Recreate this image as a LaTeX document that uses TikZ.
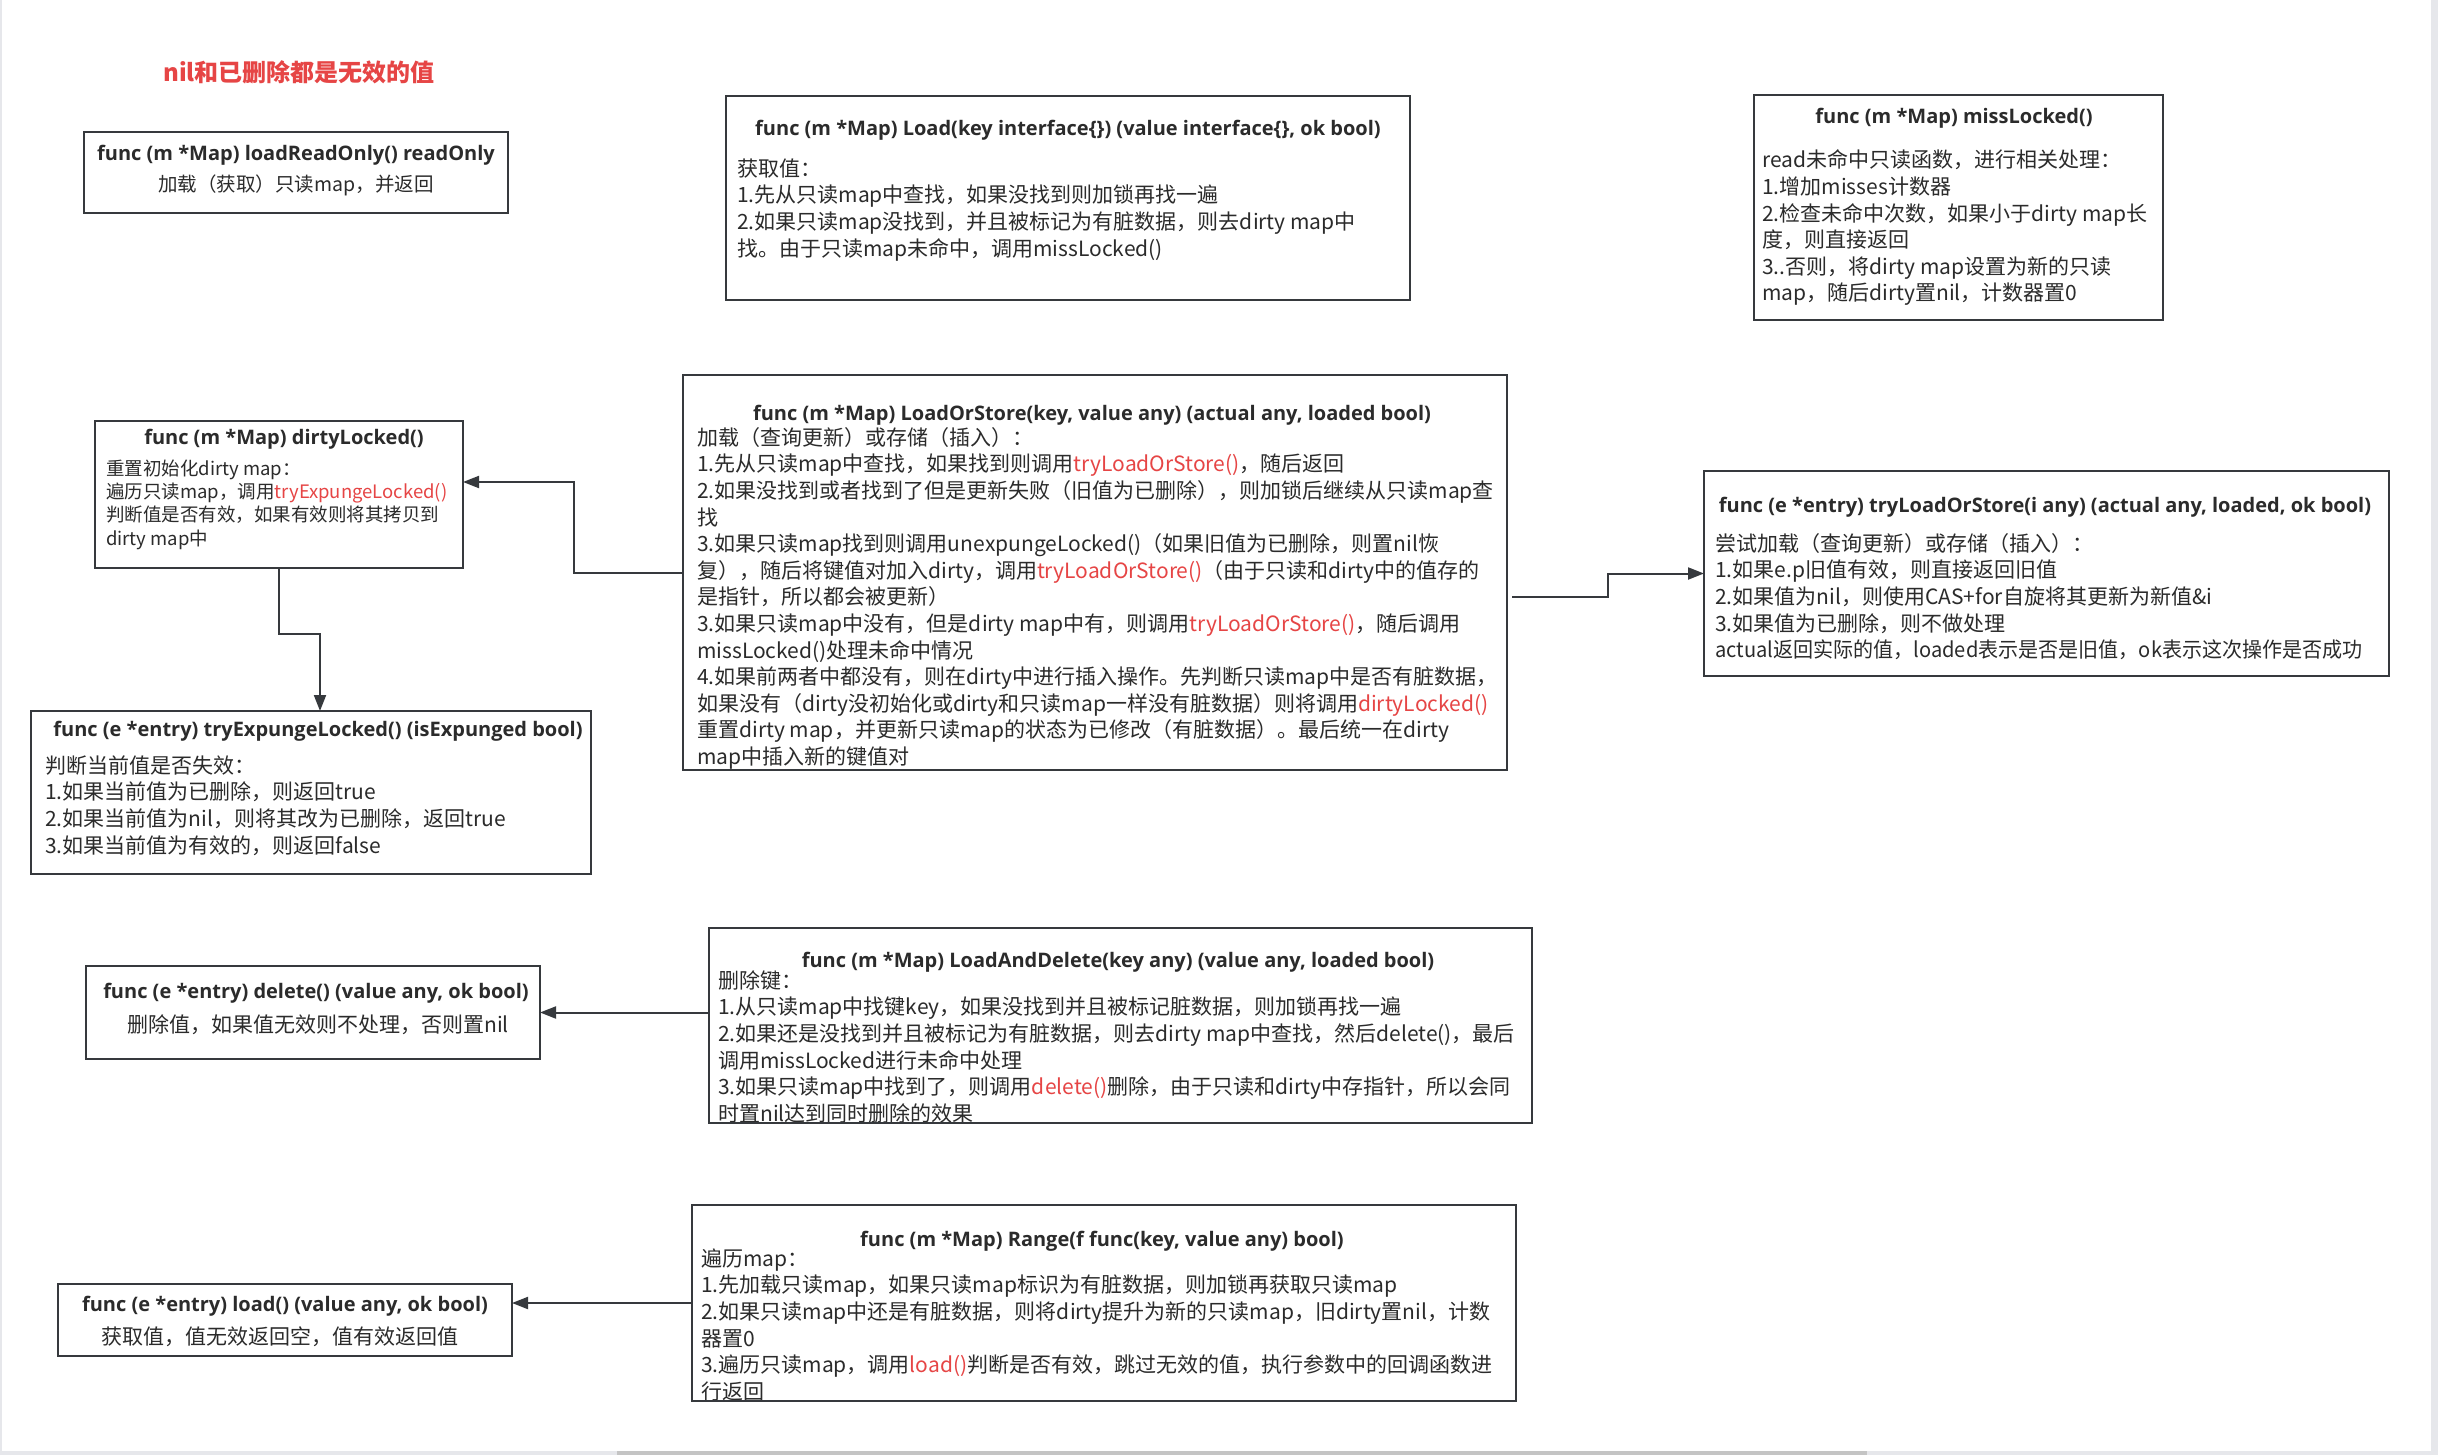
\documentclass[tikz,border=0pt]{standalone}
\usepackage{fontspec}
\setmainfont{Noto Sans CJK SC}
\newfontfamily\ttlfont{Open Sans}
\usetikzlibrary{arrows.meta}
\definecolor{bordc}{HTML}{36393D}
\definecolor{txtc}{HTML}{2B2B2B}
\definecolor{redc}{HTML}{E64545}
\definecolor{edgec}{HTML}{E6E7EB}
\definecolor{barc}{HTML}{C4C4C4}
\newcommand{\rd}[1]{\textcolor{redc}{#1}}
\begin{document}
\begin{tikzpicture}[x=1pt,y=-1pt,
 box/.style={draw=bordc, line width=2pt, anchor=north west, inner sep=0pt, outer sep=0pt},
 ttl/.style={font=\ttlfont\bfseries\fontsize{20}{24}\selectfont, text=txtc, inner sep=0pt, anchor=center},
 bodyc/.style={font=\fontsize{21}{26.6}\selectfont, text=txtc, inner sep=0pt, anchor=center},
 bodyl/.style={font=\fontsize{21}{26.6}\selectfont, text=txtc, inner sep=0pt, align=left, anchor=north west},
 conn/.style={draw=bordc, line width=2pt, -{Triangle[length=16pt,width=12pt]}},
]
\useasboundingbox (0,0) rectangle (2438,1455);
\fill[white] (0,0) rectangle (2438,1455);
\fill[edgec] (0,0) rectangle (2,1455);
\fill[edgec] (2431,0) rectangle (2438,1455);
\fill[edgec] (0,1451) rectangle (2438,1455);
\fill[barc] (617,1451) rectangle (1867,1455);

\node[font=\bfseries\fontsize{24}{28}\selectfont, text=redc, inner sep=0pt] (head) at (299,72) {nil和已删除都是无效的值};

% ---------- texts ----------
\node[ttl] (lroT) at (296,155) {func (m *Map) loadReadOnly() readOnly};
\node[bodyc, font=\fontsize{19.5}{24}\selectfont] (lroB) at (296,185) {加载（获取）只读map，并返回};

\node[ttl] (loadT) at (1068,130.5) {func (m *Map) Load(key interface\{\}) (value interface\{\}, ok bool)};
\node[bodyl] (loadB) at (737,157.5) {\strut 获取值：\\1.先从只读map中查找，如果没找到则加锁再找一遍\\2.如果只读map没找到，并且被标记为有脏数据，则去dirty map中\\找。由于只读map未命中，调用missLocked()};

\node[ttl] (missT) at (1954,118) {func (m *Map) missLocked()};
\node[bodyl] (missB) at (1762,149) {\strut read未命中只读函数，进行相关处理：\\1.增加misses计数器\\2.检查未命中次数，如果小于dirty map长\\度，则直接返回\\3..否则，将dirty map设置为新的只读\\map，随后dirty置nil，计数器置0};

\node[ttl] (dlT) at (284,439) {func (m *Map) dirtyLocked()};
\node[bodyl, font=\fontsize{18.5}{23.4}\selectfont] (dlB) at (106,458.5) {\strut 重置初始化dirty map：\\遍历只读map，调用\rd{tryExpungeLocked()}\\判断值是否有效，如果有效则将其拷贝到\\dirty map中};

\node[ttl] (teT) at (318,731.5) {func (e *entry) tryExpungeLocked() (isExpunged bool)};
\node[bodyl] (teB) at (45,754.5) {\strut 判断当前值是否失效：\\1.如果当前值为已删除，则返回true\\2.如果当前值为nil，则将其改为已删除，返回true\\3.如果当前值为有效的，则返回false};

\node[ttl] (losT) at (1092,415) {func (m *Map) LoadOrStore(key, value any) (actual any, loaded bool)};
\node[bodyl] (losB) at (697,426.5) {\strut 加载（查询更新）或存储（插入）：\\
1.先从只读map中查找，如果找到则调用\rd{tryLoadOrStore()}，随后返回\\
2.如果没找到或者找到了但是更新失败（旧值为已删除），则加锁后继续从只读map查\\
找\\
3.如果只读map找到则调用unexpungeLocked()（如果旧值为已删除，则置nil恢\\
复），随后将键值对加入dirty，调用\rd{tryLoadOrStore()}（由于只读和dirty中的值存的\\
是指针，所以都会被更新）\\
3.如果只读map中没有，但是dirty map中有，则调用\rd{tryLoadOrStore()}，随后调用\\
missLocked()处理未命中情况\\
4.如果前两者中都没有，则在dirty中进行插入操作。先判断只读map中是否有脏数据，\\
如果没有（dirty没初始化或dirty和只读map一样没有脏数据）则将调用\rd{dirtyLocked()}\\
重置dirty map，并更新只读map的状态为已修改（有脏数据）。最后统一在dirty\\
map中插入新的键值对};

\node[ttl] (tlosT) at (2045,507) {func (e *entry) tryLoadOrStore(i any) (actual any, loaded, ok bool)};
\node[bodyl] (tlosB) at (1715,532.5) {\strut 尝试加载（查询更新）或存储（插入）：\\1.如果e.p旧值有效，则直接返回旧值\\2.如果值为nil，则使用CAS+for自旋将其更新为新值\&i\\3.如果值为已删除，则不做处理\\\scalebox{0.955}[1]{actual返回实际的值，loaded表示是否是旧值，ok表示这次操作是否成功}};

\node[ttl] (delT) at (316,993.5) {func (e *entry) delete() (value any, ok bool)};
\node[bodyc] (delB) at (318,1025) {删除值，如果值无效则不处理，否则置nil};

\node[ttl] (ladT) at (1118,962) {func (m *Map) LoadAndDelete(key any) (value any, loaded bool)};
\begin{scope}
\clip (709,928) rectangle (1532,1123);
\node[bodyl] (ladB) at (718,969.5) {\strut 删除键：\\1.从只读map中找键key，如果没找到并且被标记脏数据，则加锁再找一遍\\2.如果还是没找到并且被标记为有脏数据，则去dirty map中查找，然后delete()，最后\\调用missLocked进行未命中处理\\3.如果只读map中找到了，则调用\rd{delete()}删除，由于只读和dirty中存指针，所以会同\\时置nil达到同时删除的效果};
\end{scope}

\node[ttl] (ldT) at (285,1306) {func (e *entry) load() (value any, ok bool)};
\node[bodyc] (ldB) at (280,1337) {获取值，值无效返回空，值有效返回值};

\node[ttl] (rngT) at (1102,1241) {func (m *Map) Range(f func(key, value any) bool)};
\begin{scope}
\clip (692,1205) rectangle (1516,1401);
\node[bodyl] (rngB) at (701,1247.5) {\strut 遍历map：\\1.先加载只读map，如果只读map标识为有脏数据，则加锁再获取只读map\\2.如果只读map中还是有脏数据，则将dirty提升为新的只读map，旧dirty置nil，计数\\器置0\\3.遍历只读map，调用\rd{load()}判断是否有效，跳过无效的值，执行参数中的回调函数进\\行返回};
\end{scope}

% ---------- boxes ----------
\node[box, minimum width=424pt, minimum height=81pt] (lro) at (84,132) {};
\node[box, minimum width=684pt, minimum height=204pt] (load) at (726,96) {};
\node[box, minimum width=409pt, minimum height=225pt] (miss) at (1754,95) {};
\node[box, minimum width=368pt, minimum height=147pt] (dl) at (95,421) {};
\node[box, minimum width=560pt, minimum height=163pt] (te) at (31,711) {};
\node[box, minimum width=824pt, minimum height=395pt] (los) at (683,375) {};
\node[box, minimum width=685pt, minimum height=205pt] (tlos) at (1704,471) {};
\node[box, minimum width=454pt, minimum height=93pt] (del) at (86,966) {};
\node[box, minimum width=823pt, minimum height=195pt] (lad) at (709,928) {};
\node[box, minimum width=454pt, minimum height=72pt] (ld) at (58,1284) {};
\node[box, minimum width=824pt, minimum height=196pt] (rng) at (692,1205) {};

% ---------- connectors ----------
\draw[conn] (los.west) -- ++(-109,0) |- ([yshift=12.5pt]dl.east);
\draw[conn] (dl.south) -- ++(0,66) -| ([xshift=9pt]te.north);
\draw[conn] ([shift={(5pt,-24pt)}]los.east) -- ++(96,0) |- (tlos.west);
\draw[conn] (lad.west |- del.east) -- (del.east);
\draw[conn] (rng.west) -- (ld.east |- rng.west);
\end{tikzpicture}
\end{document}
